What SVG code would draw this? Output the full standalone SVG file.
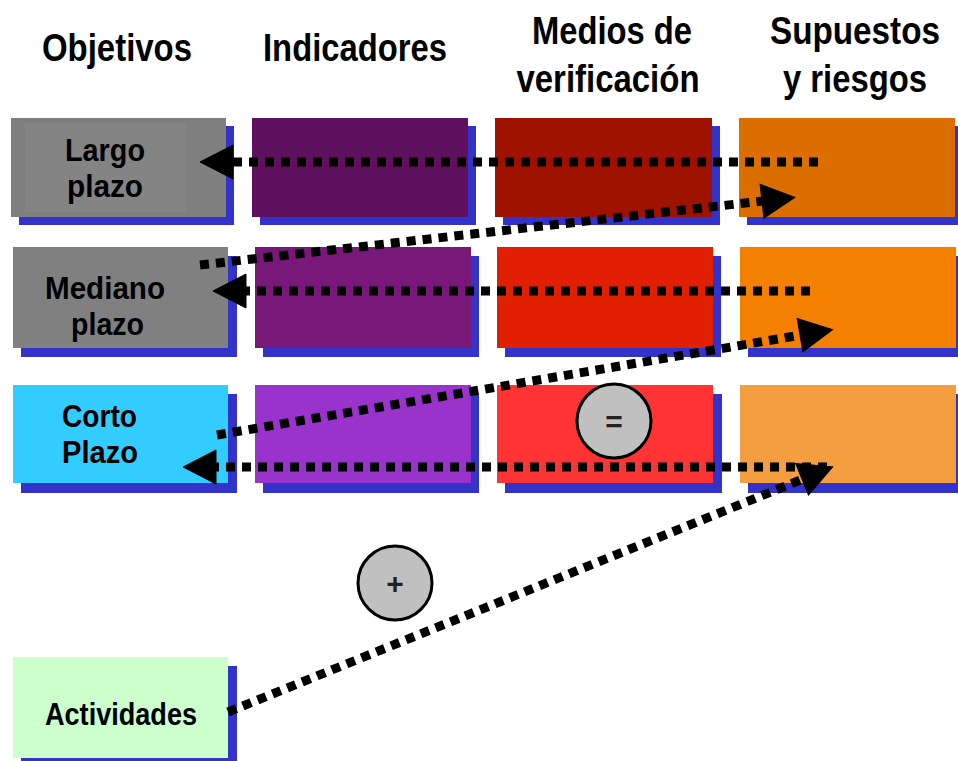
<svg xmlns="http://www.w3.org/2000/svg" width="958" height="761" viewBox="0 0 958 761">
<style>
  .hdr{font-family:"Liberation Sans",Arial,sans-serif;font-weight:bold;font-size:38px;fill:#000;text-anchor:middle;}
  .lbl{font-family:"Liberation Sans",Arial,sans-serif;font-weight:bold;font-size:32px;fill:#000;}
  .sh{fill:#3333cc;}
  .con{fill:none;stroke:#000;stroke-width:9;stroke-dasharray:9 7;}
  .head{fill:#000;stroke:#000;stroke-width:1;}
  .circ{fill:#c0c0c0;stroke:#000;stroke-width:3;}
  .sym{font-family:"Liberation Sans",Arial,sans-serif;font-weight:bold;font-size:30px;fill:#222;text-anchor:middle;}
</style>
<defs>
  <marker id="ah" markerUnits="userSpaceOnUse" orient="auto" viewBox="-4 -20 40 40" refX="0" refY="0" markerWidth="40" markerHeight="40">
    <path class="head" d="M-1,-17 L32,0 L-1,17 Z"/>
  </marker>
</defs>
<rect width="958" height="761" fill="#fff"/>

<g id="headers">
  <text class="hdr" x="117" y="61" textLength="150" lengthAdjust="spacingAndGlyphs">Objetivos</text>
  <text class="hdr" x="355" y="61" textLength="184" lengthAdjust="spacingAndGlyphs">Indicadores</text>
  <text class="hdr" x="612" y="44" textLength="160" lengthAdjust="spacingAndGlyphs">Medios de</text>
  <text class="hdr" x="608" y="92" textLength="183" lengthAdjust="spacingAndGlyphs">verificación</text>
  <text class="hdr" x="855" y="44" textLength="170" lengthAdjust="spacingAndGlyphs">Supuestos</text>
  <text class="hdr" x="855" y="92" textLength="144" lengthAdjust="spacingAndGlyphs">y riesgos</text>
</g>

<!-- Row 1 -->
<g id="largo-plazo">
  <rect class="sh" x="19" y="126" width="215" height="99"/>
  <rect x="11" y="118" width="215" height="99" fill="#7f7f7f"/>
  <rect x="25" y="123" width="161" height="89" fill="#848484"/>
  <text class="lbl" x="65" y="161" textLength="80" lengthAdjust="spacingAndGlyphs">Largo</text>
  <text class="lbl" x="67" y="197" textLength="76" lengthAdjust="spacingAndGlyphs">plazo</text>
</g>
<g id="ind-1"><rect class="sh" x="260" y="126" width="216" height="99"/><rect x="252" y="118" width="216" height="99" fill="#5f1060"/></g>
<g id="med-1"><rect class="sh" x="503" y="126" width="217" height="99"/><rect x="495" y="118" width="217" height="99" fill="#a01200"/></g>
<g id="sup-1"><rect class="sh" x="747" y="126" width="216" height="99"/><rect x="739" y="118" width="216" height="99" fill="#dc6e00"/></g>

<!-- Row 2 -->
<g id="mediano-plazo">
  <rect class="sh" x="21" y="256" width="216" height="101"/>
  <rect x="13" y="247" width="215" height="101" fill="#808080"/>
  <text class="lbl" x="45" y="299" textLength="120" lengthAdjust="spacingAndGlyphs">Mediano</text>
  <text class="lbl" x="71" y="335" textLength="73" lengthAdjust="spacingAndGlyphs">plazo</text>
</g>
<g id="ind-2"><rect class="sh" x="263" y="256" width="216" height="101"/><rect x="255" y="247" width="216" height="101" fill="#781878"/></g>
<g id="med-2"><rect class="sh" x="505" y="256" width="216" height="101"/><rect x="497" y="247" width="216" height="101" fill="#e02000"/></g>
<g id="sup-2"><rect class="sh" x="748" y="256" width="216" height="101"/><rect x="740" y="247" width="216" height="101" fill="#f58000"/></g>

<!-- Row 3 -->
<g id="corto-plazo">
  <rect class="sh" x="21" y="394" width="216" height="99"/>
  <rect x="13" y="385" width="215" height="98" fill="#33ccff"/>
  <text class="lbl" x="62" y="427" textLength="75" lengthAdjust="spacingAndGlyphs">Corto</text>
  <text class="lbl" x="62" y="463" textLength="76" lengthAdjust="spacingAndGlyphs">Plazo</text>
</g>
<g id="ind-3"><rect class="sh" x="263" y="394" width="216" height="99"/><rect x="255" y="385" width="216" height="98" fill="#9933cc"/></g>
<g id="med-3"><rect class="sh" x="505" y="394" width="217" height="99"/><rect x="497" y="385" width="216" height="98" fill="#ff3333"/></g>
<g id="sup-3"><rect class="sh" x="748" y="394" width="216" height="99"/><rect x="740" y="385" width="216" height="98" fill="#f59e40"/></g>

<!-- Actividades -->
<g id="actividades">
  <rect class="sh" x="21" y="666" width="216" height="101"/>
  <rect x="13" y="657" width="215" height="101" fill="#ccffcc"/>
  <text class="lbl" x="45" y="725" textLength="152" lengthAdjust="spacingAndGlyphs" font-size="30">Actividades</text>
</g>

<g id="connectors">
  <line class="con" x1="818" y1="162" x2="232" y2="162" marker-end="url(#ah)"/>
  <line class="con" x1="200" y1="265" x2="763" y2="201" marker-end="url(#ah)"/>
  <line class="con" x1="810" y1="291" x2="245" y2="291" marker-end="url(#ah)"/>
  <line class="con" x1="217" y1="435" x2="801" y2="335" marker-end="url(#ah)"/>
  <line class="con" x1="827" y1="467" x2="215" y2="467" marker-end="url(#ah)"/>
  <line class="con" x1="228" y1="712" x2="803" y2="479" marker-end="url(#ah)"/>
</g>

<g id="op-equal">
  <circle class="circ" cx="614" cy="421" r="37"/>
  <text class="sym" x="614" y="432">=</text>
</g>
<g id="op-plus">
  <circle class="circ" cx="395" cy="583" r="37"/>
  <text class="sym" x="395" y="594">+</text>
</g>
</svg>
